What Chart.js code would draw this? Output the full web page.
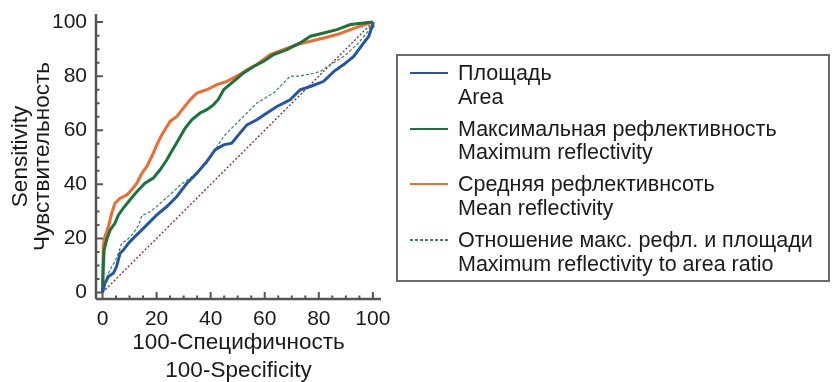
<!doctype html>
<html>

<head>
    <meta charset="utf-8">
    <title>ROC</title>
    <script src="https://cdn.jsdelivr.net/npm/chart.js"></script>
    <style>
        body { margin: 0; background: #fff; font-family: "Liberation Sans", Arial, sans-serif; }
        #wrap { position: relative; width: 832px; height: 382px; }
        #legenda {
            position: absolute; left: 396px; top: 54px; width: 430px; height: 218px;
            border: 2px solid #6a6a6a; padding-top: 6px; box-sizing: content-box;
            color: #1a1a1a; font-size: 21.5px; line-height: 23.5px;
        }
        .item { position: relative; height: 47px; margin-bottom: 8.7px; padding-left: 60px; white-space: nowrap; }
        .amostra { position: absolute; left: 12px; top: 10px; width: 38px; height: 2px; }
    </style>
</head>

<body>
    <div id="wrap">
        <canvas id="roc" width="832" height="382"></canvas>
        <div id="legenda"></div>
    </div>

    <script>
        // eixos
        var tickValues = [0, 20, 40, 60, 80, 100];
        var yTitle = ['Sensitivity', 'Чувствительность'];
        var xTitle = ['100-Специфичность', '100-Specificity'];

        // Площадь / Area
        var areaX = [0, 0.9, 2.2, 4, 5.2, 6.5, 7.7, 9.6, 11.4, 13.9, 16.4, 20.1, 23.8, 27.5, 31.2, 34.9, 38.6, 41.7, 44.8, 47.8, 50.3, 53.4, 57.1, 60.8, 64.5, 69.4, 73.1, 76.9, 81.8, 85.5, 89.2, 92.9, 96.6, 98.5, 99.7, 100];
        var areaY = [0, 3.4, 5.9, 7.1, 9.6, 14.5, 15.7, 18.2, 20.1, 22.5, 25, 28.7, 31.8, 35.5, 40.4, 44.1, 48.5, 52.8, 54.6, 55.2, 58.3, 62, 63.9, 66.4, 68.8, 71.3, 75, 76.2, 78.1, 81.7, 84.3, 87.3, 92.3, 94.8, 98.5, 100];

        // Максимальная рефлективность / Maximum reflectivity
        var maxX = [0, 0.3, 0.6, 1.5, 2.8, 4.6, 5.9, 7.7, 10.2, 12.7, 15.7, 18.8, 21.3, 23.8, 25.6, 28.1, 30.6, 33, 36.1, 38.6, 41, 42.9, 44.8, 48.5, 52.2, 55.9, 59.6, 63.3, 68.2, 73.1, 76.9, 81.8, 86.7, 91.7, 96.6, 100];
        var maxY = [0, 9.6, 15.7, 19.4, 23.1, 25.6, 28.7, 31.2, 34.3, 37.3, 40.4, 42.3, 45.4, 49.1, 52.2, 56.5, 60.8, 63.9, 66.4, 67.6, 69.4, 71.5, 75, 78.1, 81.2, 83.6, 85.5, 88, 89.8, 92.3, 94.8, 96, 97.2, 99.1, 99.7, 100];

        // Средняя рефлективнсоть / Mean reflectivity
        var meanX = [0, 0.3, 0.9, 2.2, 3.4, 4.6, 6.5, 9, 10.8, 12.7, 14.5, 16.4, 18.2, 20.1, 21.9, 25, 27.5, 29.9, 32.4, 34.9, 38.6, 42.3, 46, 49.7, 53.4, 57.1, 62, 66.9, 71.9, 76.9, 81.8, 86.7, 91.7, 95.4, 100];
        var meanY = [0, 17.6, 20.7, 24.4, 29.3, 33, 34.9, 36.1, 38, 40.4, 44, 46.6, 50.3, 54.6, 58.3, 63.3, 65.1, 68.2, 71.3, 73.8, 75, 76.9, 78.1, 80, 82.4, 84.3, 88, 89.8, 91.7, 92.9, 94.1, 95.4, 97.2, 98.5, 100];

        // Отношение макс. рефл. и площади / ratio
        var ratioX = [0, 0.9, 2.2, 3.4, 4.6, 5.9, 7.1, 9, 11.4, 13.4, 14.6, 17, 20.1, 23, 26.2, 29, 32.4, 35.5, 38.6, 41.5, 44.8, 48, 50.9, 54, 57.1, 60.3, 63.3, 66.5, 69.4, 72.7, 75.6, 78, 80.6, 84.3, 89.2, 94.1, 97.8, 100];
        var ratioY = [0, 4, 7.1, 9.6, 11.4, 14.5, 18.2, 19.4, 21.9, 25, 28.5, 29.5, 31.8, 34.5, 37.3, 40, 42.3, 45, 47.8, 52.5, 57.7, 61, 63.9, 67, 70.1, 72, 73.8, 77, 80, 80, 80.6, 81, 81.8, 84.3, 87.3, 91.7, 96, 100];

        // diagonal
        var refX = [0, 100];
        var refY = [0, 100];

        function pontos(xs, ys) {
            return xs.map(function (x, i) { return { x: x, y: ys[i] }; });
        }

        var familia = '"Liberation Sans", Arial, sans-serif';
        var fonte = { family: familia, size: 21 };

        // eixos com ticks para dentro + ticks menores
        var eixosPlugin = {
            id: 'eixos',
            afterDraw: function (chart) {
                var ctx = chart.ctx, a = chart.chartArea;
                var sx = chart.scales.x, sy = chart.scales.y;
                ctx.save();
                ctx.strokeStyle = '#555';
                ctx.lineWidth = 2.5;
                ctx.beginPath();
                ctx.moveTo(a.left, a.top); ctx.lineTo(a.left, a.bottom);
                ctx.moveTo(a.left, a.bottom); ctx.lineTo(a.right, a.bottom);
                ctx.stroke();
                ctx.lineWidth = 2;
                ctx.beginPath();
                for (var v = 0; v <= 100; v += 5) {
                    var len = v % 20 === 0 ? 7 : 3.5;
                    var px = sx.getPixelForValue(v), py = sy.getPixelForValue(v);
                    ctx.moveTo(px, a.bottom); ctx.lineTo(px, a.bottom - len);
                    ctx.moveTo(a.left, py); ctx.lineTo(a.left + len, py);
                }
                ctx.stroke();
                ctx.restore();
            }
        };

        var roc = new Chart(document.getElementById('roc').getContext('2d'), {
            type: 'line',
            data: {
                datasets: [{
                    label: ['Площадь', 'Area'],
                    data: pontos(areaX, areaY),
                    borderColor: '#2456a8',
                    borderWidth: 3
                }, {
                    label: ['Максимальная рефлективность', 'Maximum reflectivity'],
                    data: pontos(maxX, maxY),
                    borderColor: '#17743a',
                    borderWidth: 3
                }, {
                    label: ['Средняя рефлективнсоть', 'Mean reflectivity'],
                    data: pontos(meanX, meanY),
                    borderColor: '#f26a2e',
                    borderWidth: 3
                }, {
                    label: ['Отношение макс. рефл. и площади', 'Maximum reflectivity to area ratio'],
                    data: pontos(ratioX, ratioY),
                    borderColor: '#2f8a4e',
                    borderWidth: 1.2,
                    borderDash: [3, 2]
                }, {
                    label: 'ref',
                    data: pontos(refX, refY),
                    borderColor: '#8e1f3c',
                    borderWidth: 1.3,
                    borderDash: [2, 2]
                }]
            },
            options: {
                responsive: false,
                animation: false,
                parsing: false,
                elements: { point: { radius: 0 }, line: { tension: 0 } },
                layout: { padding: { left: 0, right: 451, top: 14, bottom: 0 } },
                plugins: { legend: { display: false }, tooltip: { enabled: false } },
                scales: {
                    x: {
                        type: 'linear',
                        min: -2.4,
                        max: 103,
                        grid: { display: false, drawTicks: false },
                        border: { display: false },
                        afterBuildTicks: function (s) { s.ticks = tickValues.map(function (v) { return { value: v }; }); },
                        afterFit: function (s) { s.height = 83; s.paddingLeft = 0; s.paddingRight = 0; },
                        ticks: { color: '#1a1a1a', font: fonte, padding: 8, maxRotation: 0 },
                        title: {
                            display: true, text: xTitle, color: '#1a1a1a',
                            font: { family: familia, size: 22.5, lineHeight: '28px' },
                            padding: { top: 0, bottom: -2.5 }
                        }
                    },
                    y: {
                        type: 'linear',
                        min: -2.4,
                        max: 103,
                        grid: { display: false, drawTicks: false },
                        border: { display: false },
                        afterBuildTicks: function (s) { s.ticks = tickValues.map(function (v) { return { value: v }; }); },
                        afterFit: function (s) { s.width = 96; s.paddingTop = 0; s.paddingBottom = 0; },
                        ticks: { color: '#1a1a1a', font: fonte, padding: 9 },
                        title: {
                            display: true, text: yTitle, color: '#1a1a1a',
                            font: { family: familia, size: 22.5, lineHeight: '22px' },
                            padding: { top: 9.5, bottom: 0 }
                        }
                    }
                }
            },
            plugins: [eixosPlugin]
        });

        // legenda em HTML feita a partir dos datasets
        var legenda = document.getElementById('legenda');
        roc.data.datasets.slice(0, 4).forEach(function (ds) {
            var item = document.createElement('div');
            item.className = 'item';
            var linha = document.createElement('div');
            linha.className = 'amostra';
            if (ds.borderDash) {
                linha.style.height = '1.5px';
                linha.style.background = 'repeating-linear-gradient(90deg,' + ds.borderColor + ' 0 3px, transparent 3px 5px)';
            } else {
                linha.style.background = ds.borderColor;
            }
            item.appendChild(linha);
            ds.label.forEach(function (t) {
                var d = document.createElement('div');
                d.textContent = t;
                item.appendChild(d);
            });
            legenda.appendChild(item);
        });
    </script>
</body>

</html>
